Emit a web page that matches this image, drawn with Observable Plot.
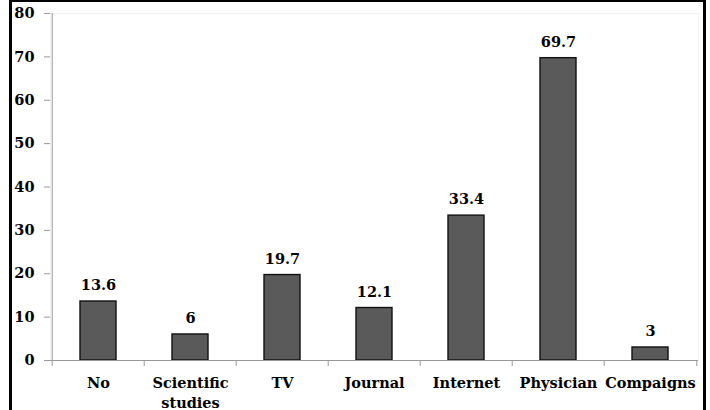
<!DOCTYPE html>
<html>
<head>
<meta charset="utf-8">
<script src="https://cdn.jsdelivr.net/npm/d3@7"></script>
<script src="https://cdn.jsdelivr.net/npm/@observablehq/plot@0.6"></script>
<style>
  html, body { margin: 0; padding: 0; background: #fff; }
  body { width: 710px; height: 410px; position: relative; overflow: hidden; }
  #chart { position: absolute; left: 0; top: 0; }
  #box {
    position: absolute; left: 9px; top: 0; width: 691px; height: 430px;
    border-left: 3px solid #000; border-top: 2px solid #000; border-right: 3px solid #000;
    pointer-events: none;
  }
</style>
</head>
<body>
<div id="chart"></div>
<div id="box"></div>
<script>
// Sources of information, percent of respondents
const categories = ["No", "Scientific\nstudies", "TV", "Journal", "Internet", "Physician", "Compaigns"];
const values = [13.6, 6, 19.7, 12.1, 33.4, 69.7, 3];
const yTicks = [0, 10, 20, 30, 40, 50, 60, 70, 80];

const rows = categories.map((c, i) => ({category: c, value: values[i]}));

const W = 710, H = 410;
const mL = 50, mR = 12, mT = 13, mB = 50;
const step = (W - mL - mR) / categories.length;
const font = "'DejaVu Serif', serif";

const chart = Plot.plot({
  width: W,
  height: H,
  marginLeft: mL,
  marginRight: mR,
  marginTop: mT,
  marginBottom: mB,
  style: {fontFamily: font, fontSize: "14.5px", fontWeight: "bold", color: "#000", background: "#fff"},
  x: {domain: categories, padding: 0, label: null},
  y: {domain: [0, 80], label: null},
  marks: [
    Plot.frame({stroke: "#f3f3f3"}),
    Plot.barY(rows, {x: "category", y: "value", fill: "#5a5a5a", stroke: "#111", strokeWidth: 1.4, insetLeft: 28, insetRight: 28}),
    // vertical axis line
    Plot.ruleX([categories[0]], {dx: -step / 2, stroke: "#999"}),
    Plot.ruleY([0], {stroke: "#999"}),
    Plot.axisY({ticks: yTicks, tickSize: 6, tickPadding: 10, stroke: "#999", fill: "#000", fontWeight: "bold", fontSize: 14.5}),
    // category boundary ticks
    Plot.axisX(categories, {tickSize: 6, text: null, dx: -step / 2, stroke: "#999"}),
    Plot.axisX([categories[categories.length - 1]], {tickSize: 6, text: null, dx: step / 2, stroke: "#999"}),
    Plot.axisX({tickSize: 0, tickPadding: 13, lineHeight: 1.38, fill: "#000", fontWeight: "bold", fontSize: 14.5}),
    Plot.text(rows, {x: "category", y: "value", text: d => String(d.value), dy: -16, lineAnchor: "middle", fill: "#000", fontWeight: "bold", fontSize: 14.5})
  ]
});
document.getElementById("chart").append(chart);
</script>
</body>
</html>
